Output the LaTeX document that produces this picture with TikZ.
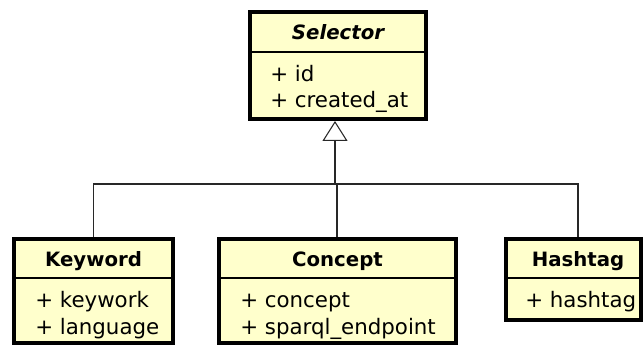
\documentclass[tikz,border=0pt]{standalone}
\usepackage{fontspec}
\setmainfont{DejaVu Sans}
\usetikzlibrary{arrows.meta,fit}
\definecolor{umlfill}{RGB}{255,255,204}
\definecolor{linegray}{RGB}{40,40,40}
\begin{document}
\begin{tikzpicture}[x=0.75pt,y=-0.75pt,
  cls/.style={draw=black,line width=3pt,fill=umlfill,inner sep=0pt},
  divider/.style={draw=black,line width=1pt},
  title/.style={anchor=base,font=\fontsize{14.8}{17}\selectfont\bfseries,inner sep=0pt},
  attr/.style={anchor=base west,font=\fontsize{16}{19}\selectfont,inner sep=0pt},
  conn/.style={draw=linegray,line width=0.8pt},
  inherit/.style={conn,-{Triangle[open,length=15pt,width=18.75pt,line width=0.8pt]}}]
\useasboundingbox (0,0) rectangle (643,348);
% boxes
\node[cls,fit={(250,12) (426,119)}] (sel) {};
\node[cls,fit={(14,239) (173,343)}] (kw) {};
\node[cls,fit={(219,239) (456,343)}] (con) {};
\node[cls,fit={(506,239) (641,320)}] (ht) {};
% dividers
\draw[divider] (251.5,52) -- (424.5,52);
\draw[divider] (15.5,278) -- (171.5,278);
\draw[divider] (220.5,278) -- (454.5,278);
\draw[divider] (507.5,278) -- (643,278);
% texts
\node[title,font=\fontsize{14.8}{17}\selectfont\bfseries\itshape] (selt) at (338,40) {Selector};
\node[attr] (sela1) at (270,82) {+ id};
\node[attr] (sela2) at (270,108) {+ created\_at};
\node[title] (kwt) at (93.5,267) {Keyword};
\node[attr] (kwa1) at (35,308) {+ keywork};
\node[attr] (kwa2) at (35,335) {+ language};
\node[title] (cont) at (337.5,267) {Concept};
\node[attr] (cona1) at (240,308) {+ concept};
\node[attr] (cona2) at (240,335) {+ sparql\_endpoint};
\node[title] (htt) at (578,267) {Hashtag};
\node[attr] (hta1) at (525,308) {+ hashtag};
% connectors
\coordinate (hub) at (335,184);
\coordinate (hr) at (578,184);
\coordinate (htin) at (578,237);
\coordinate (conin) at (337,237);
\coordinate (conhub) at (337,184);
\draw[inherit] (hub) -- (sel.south -| hub);
\draw[conn] (kw.north) |- (hr) -- (htin);
\draw[conn] (conhub) -- (conin);
\end{tikzpicture}
\end{document}
